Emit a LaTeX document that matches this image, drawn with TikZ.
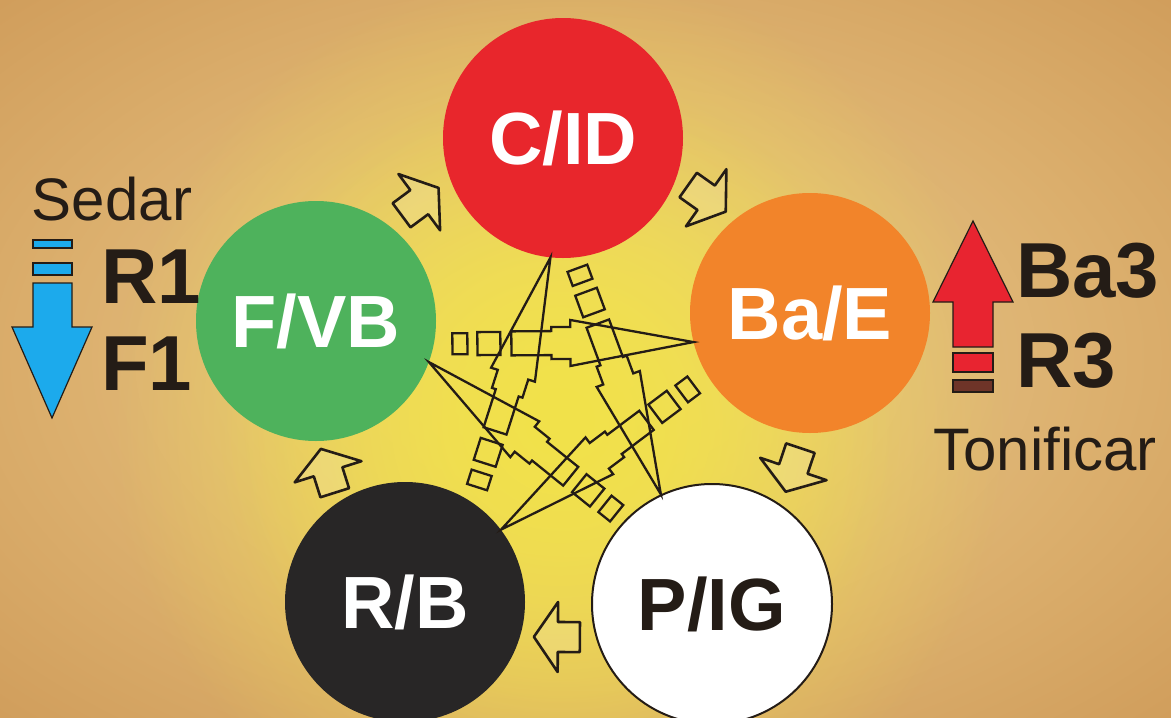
\documentclass[tikz,border=0pt]{standalone}
\usepackage{fontspec}
\setmainfont{Liberation Sans}
\usetikzlibrary{fadings}

\definecolor{parchlight}{RGB}{232,204,146}
\definecolor{parchmid}{RGB}{220,176,110}
\definecolor{parchdark}{RGB}{196,138,72}
\definecolor{glowyellow}{RGB}{242,226,74}
\definecolor{firered}{RGB}{232,38,44}
\definecolor{earthorange}{RGB}{242,132,42}
\definecolor{woodgreen}{RGB}{78,178,92}
\definecolor{waterblack}{RGB}{40,38,38}
\definecolor{inkdark}{RGB}{36,28,22}
\definecolor{sedarblue}{RGB}{28,170,236}
\definecolor{tonred}{RGB}{232,36,48}
\definecolor{stripebrown}{RGB}{110,52,40}

\pgfdeclareradialshading{parchment}{\pgfpoint{0bp}{0bp}}{color(0bp)=(parchlight); color(22bp)=(parchmid); color(50bp)=(parchdark)}
\tikzfading[name=glowfade, inner color=transparent!0, outer color=transparent!100]

\tikzset{
  ko arrow/.pic={
    \draw[koline] (0,0) -- (123,23) -- (123,16) -- (142,16) -- (142,12) -- (182,12)
      -- (182,-12) -- (142,-12) -- (142,-16) -- (123,-16) -- (123,-23) -- cycle;
    \draw[koline] (193,-11.5) rectangle (216,11.5);
    \draw[koline] (226,-10.5) rectangle (241,10.5);
  },
  sheng arrow/.pic={
    \draw[shengline] (-22,-49) -- (0,-49) -- (0,-69) -- (24,-34) -- (0,1) -- (0,-19) -- (-22,-19) -- cycle;
  }
}

\begin{document}
\begin{tikzpicture}[x=1pt, y=-1pt]
    % Define styles
    \tikzstyle{elem} = [circle, minimum size=240pt, inner sep=0pt, text=white, font=\bfseries\fontsize{74}{74}\selectfont]
    \tikzstyle{koline} = [draw=inkdark, line width=2.3pt, line join=miter]
    \tikzstyle{shengline} = [draw=inkdark, line width=2.6pt, fill=white, fill opacity=0.15, line join=round]
    \tikzstyle{side} = [inner sep=0pt, text=inkdark, font=\bfseries\fontsize{78}{78}\selectfont]
    \tikzstyle{tag} = [inner sep=0pt, text=inkdark, font=\fontsize{60}{60}\selectfont]
    \tikzstyle{bigarrow} = [draw=inkdark, line width=1.2pt, line join=miter]

    % Background
    \useasboundingbox (0,0) rectangle (1171,718);
    \shade[shading=parchment] (0,0) rectangle (1171,718);
    \begin{scope}
        \clip (0,0) rectangle (1171,718);
        \fill[glowyellow, path fading=glowfade] (560,420) circle (450);
        \fill[glowyellow, fill opacity=0.85, path fading=glowfade] (560,420) circle (340);
    \end{scope}

    % Elements
    \node[elem, fill=firered] (c) at (563,138) {C/ID};
    \node[elem, fill=earthorange] (ba) at (810,313) {Ba/E};
    \node[elem, fill=woodgreen] (f) at (316,321) {F/VB};
    \node[elem, fill=waterblack] (r) at (405,602) {R/B};
    \node[elem, fill=white, draw=inkdark, line width=2pt, text=inkdark] (p) at (712,604) {P/IG};

    % Generating cycle
    \path (f) -- pic[pos=0.5, sloped, allow upside down] {sheng arrow} (c);
    \path (c) -- pic[pos=0.5, sloped, allow upside down] {sheng arrow} (ba);
    \path (ba) -- pic[pos=0.5, sloped, allow upside down] {sheng arrow} (p);
    \path (p) -- pic[pos=0.5, sloped, allow upside down] {sheng arrow} (r);
    \path (r) -- pic[pos=0.5, sloped, allow upside down] {sheng arrow} (f);

    % Control cycle
    \path (ba.194) -- pic[pos=0, sloped, allow upside down] {ko arrow} (f.349);
    \path (c.264) -- pic[pos=0, sloped, allow upside down] {ko arrow} (r.56);
    \path (p.115) -- pic[pos=0, sloped, allow upside down] {ko arrow} (c.275);
    \path (f.340) -- pic[pos=0, sloped, allow upside down] {ko arrow} (p.136);
    \path (r.37) -- pic[pos=0, sloped, allow upside down] {ko arrow} (ba.211);

    % Sedar
    \node[tag, anchor=base] (sedar) at (112,220) {Sedar};
    \node[side, anchor=base west] (rone) at (101,303) {R1};
    \node[side, anchor=base west] (fone) at (101,390) {F1};
    \filldraw[bigarrow, fill=sedarblue] (33,240) rectangle (72,248);
    \filldraw[bigarrow, fill=sedarblue] (33,263) rectangle (72,275);
    \filldraw[bigarrow, fill=sedarblue] (33,283) -- (72,283) -- (72,327) -- (92,327) -- (52,418) -- (12,327) -- (33,327) -- cycle;

    % Tonificar
    \node[side, anchor=base west] (bathree) at (1016,297) {Ba3};
    \node[side, anchor=base west] (rthree) at (1016,387) {R3};
    \node[tag, anchor=base] (tonificar) at (1045,470) {Tonificar};
    \filldraw[bigarrow, fill=tonred] (953,347) -- (953,302) -- (933,302) -- (973,221) -- (1013,302) -- (993,302) -- (993,347) -- cycle;
    \filldraw[bigarrow, fill=tonred] (953,353) rectangle (993,372);
    \filldraw[bigarrow, fill=stripebrown] (953,380) rectangle (993,392);
\end{tikzpicture}
\end{document}
